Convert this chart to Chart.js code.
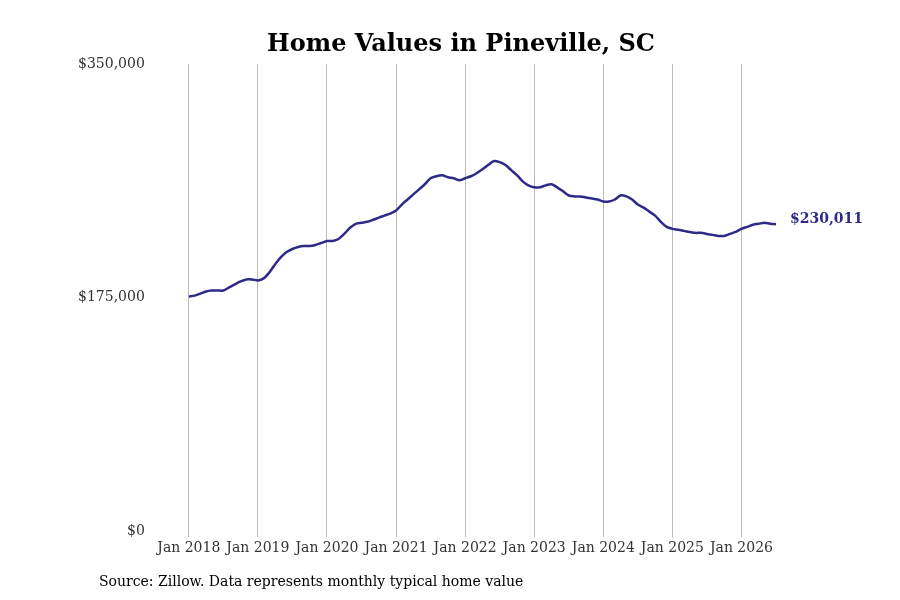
<!DOCTYPE html>
<html>
<head>
<meta charset="utf-8">
<script src="https://cdn.jsdelivr.net/npm/chart.js@4"></script>
<style>
  body { margin: 0; background: #fff; }
  #caja { position: relative; width: 900px; height: 600px; }
  #titulo { position: absolute; left: 0; top: 28px; width: 922px; text-align: center; font: bold 24px "DejaVu Serif", serif; color: #000; }
  #fuente { position: absolute; left: 99px; top: 573px; font: 14px "DejaVu Serif", serif; color: #000; }
  canvas { position: absolute; left: 0; top: 0; }
</style>
</head>
<body>
<div id="caja">
  <canvas id="grafica" width="900" height="600"></canvas>
  <div id="titulo">Home Values in Pineville, SC</div>
  <div id="fuente">Source: Zillow. Data represents monthly typical home value</div>
</div>
<script>
// Valores mensuales, enero 2018 a julio 2026
var valores2018 = [175800, 176500, 178000, 179600, 180300, 180300, 180300, 182600, 184900, 187100, 188600, 188600];
var valores2019 = [187900, 189400, 193900, 200000, 205300, 209100, 211400, 212900, 213600, 213600, 214400, 215900];
var valores2020 = [217400, 217400, 218900, 222700, 227300, 230300, 231100, 231800, 233300, 234900, 236400, 237900];
var valores2021 = [240200, 244700, 248500, 252300, 256100, 259900, 264400, 265900, 266700, 265200, 264400, 262900];
var valores2022 = [264400, 265900, 268200, 271200, 274300, 277300, 276500, 274300, 270500, 266700, 262100, 259100];
var valores2023 = [257600, 257600, 259100, 259900, 257600, 254600, 251500, 250800, 250800, 250000, 249300, 248500];
var valores2024 = [247000, 247000, 248500, 251500, 250800, 248500, 244700, 242400, 239400, 236400, 231800, 228000];
var valores2025 = [226500, 225800, 225000, 224200, 223500, 223500, 222700, 222000, 221200, 221200, 222700, 224200];
var valores2026 = [226500, 228000, 229600, 230300, 231100, 230300, 230011];
var anios = [2018, 2019, 2020, 2021, 2022, 2023, 2024, 2025, 2026];
var ticksY = [0, 175000, 350000];

var valores = [].concat(valores2018, valores2019, valores2020, valores2021, valores2022, valores2023, valores2024, valores2025, valores2026);
var puntos = valores.map(function (v, i) { return { x: i, y: v }; });
var colorLinea = '#2e2b88';
var fuenteSerif = '"DejaVu Serif", serif';

// Etiqueta del último valor a la derecha de la línea
var etiquetaFinal = {
    id: 'etiquetaFinal',
    afterDatasetsDraw: function (chart) {
        var meta = chart.getDatasetMeta(0);
        var ultimo = meta.data[meta.data.length - 1];
        var ctx = chart.ctx;
        ctx.save();
        ctx.font = 'bold 14px ' + fuenteSerif;
        ctx.fillStyle = colorLinea;
        ctx.textBaseline = 'middle';
        ctx.fillText('$' + valores[valores.length - 1].toLocaleString('en-US'), ultimo.x + 14, ultimo.y - 5);
        ctx.restore();
    }
};

new Chart(document.getElementById('grafica').getContext('2d'), {
    type: 'line',
    data: {
        datasets: [{
            data: puntos,
            borderColor: colorLinea,
            borderWidth: 2.5,
            pointRadius: 0,
            tension: 0.3,
            fill: false
        }]
    },
    options: {
        responsive: false,
        animation: false,
        layout: { padding: { left: 42, right: 124, top: 64, bottom: 40 } },
        plugins: {
            legend: { display: false },
            tooltip: { enabled: false },
            title: { display: false }
        },
        scales: {
            x: {
                type: 'linear',
                min: 0,
                max: valores.length - 1,
                afterBuildTicks: function (axis) {
                    axis.ticks = anios.map(function (a, i) { return { value: i * 12 }; });
                },
                ticks: {
                    color: '#333',
                    font: { family: fuenteSerif, size: 14 },
                    maxRotation: 0,
                    callback: function (v) { return 'Jan ' + anios[v / 12]; }
                },
                grid: { color: '#bbb', drawTicks: true, tickLength: 6 },
                border: { display: false }
            },
            y: {
                min: 0,
                max: 350000,
                afterBuildTicks: function (axis) {
                    axis.ticks = ticksY.map(function (v) { return { value: v }; });
                },
                ticks: {
                    color: '#333',
                    padding: 36,
                    font: { family: fuenteSerif, size: 14 },
                    callback: function (v) { return '$' + v.toLocaleString('en-US'); }
                },
                grid: { display: false },
                border: { display: false }
            }
        }
    },
    plugins: [etiquetaFinal]
});
</script>
</body>
</html>
